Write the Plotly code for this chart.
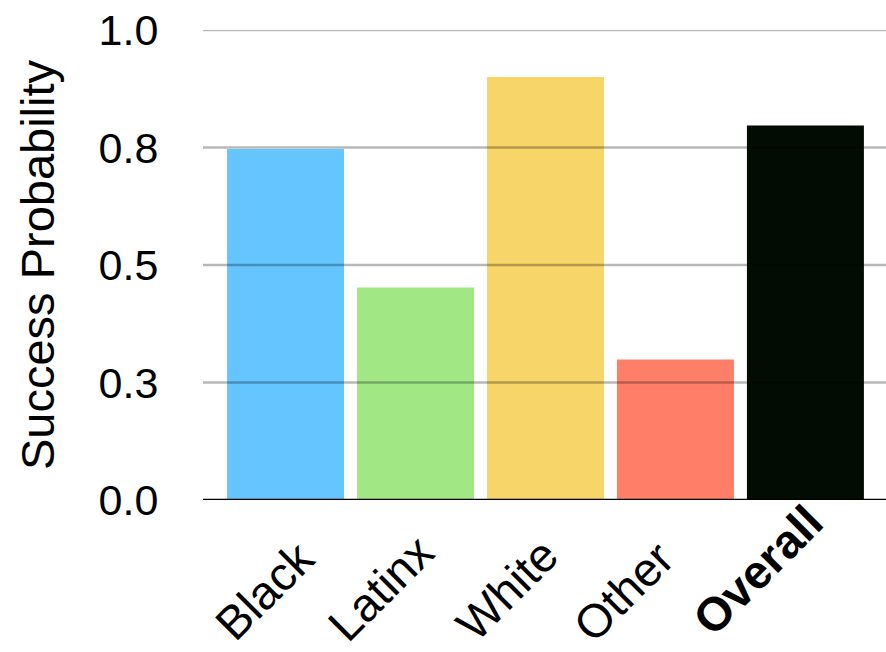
import plotly.graph_objects as go

categories = ["Black", "Latinx", "White", "Other", "Overall"]
label_text = ["Black", "Latinx", "White", "Other", "<b>Overall</b>"]
values = [0.747, 0.452, 0.900, 0.299, 0.797]
colors = ["#64C5FF", "#A1E885", "#F8D568", "#FF7E68", "#020C03"]
y_ticks = [0.0, 0.25, 0.5, 0.75, 1.0]
y_tick_text = ["0.0", "0.3", "0.5", "0.8", "1.0"]

# style: per-label pixel nudges of the rotated category labels
label_dx = [40, 29, 24, 10, 28]
label_dy = [-30, -24, -27, -30, 6]

FONT = "Liberation Sans, Arial, Helvetica, sans-serif"

fig = go.Figure()
fig.add_trace(go.Bar(
    x=list(range(len(categories))),
    y=values,
    marker=dict(color=colors, line=dict(width=0)),
    width=0.9,
    hoverinfo="skip",
))

for yv in y_ticks[1:]:
    fig.add_shape(type="line", xref="paper", yref="y", x0=0, x1=1, y0=yv, y1=yv,
                  line=dict(color="rgba(0,0,0,0.28)", width=2.5), layer="above")
fig.add_shape(type="line", xref="paper", yref="y", x0=0, x1=1, y0=0, y1=0,
              line=dict(color="black", width=2.5), layer="above")

for i, t in enumerate(label_text):
    fig.add_annotation(x=i, y=0, xref="x", yref="y", text=t, showarrow=False,
                       textangle=-45, xanchor="right", yanchor="top",
                       xshift=label_dx[i], yshift=label_dy[i], borderpad=0,
                       font=dict(size=47, family=FONT, color="black"))

fig.update_layout(
    width=886, height=652,
    margin=dict(l=203, r=0, t=30, b=152, pad=0, autoexpand=False),
    paper_bgcolor="white", plot_bgcolor="white",
    showlegend=False,
    font=dict(family=FONT, color="black"),
    xaxis=dict(
        tickmode="array",
        tickvals=list(range(len(categories))),
        showticklabels=False,
        range=[-0.635, 4.62],
        showgrid=False, zeroline=False, showline=False,
        automargin=False,
    ),
    yaxis=dict(
        range=[0, 1.0],
        tickmode="array",
        tickvals=y_ticks,
        ticktext=y_tick_text,
        tickfont=dict(size=43, family=FONT, color="black"),
        showgrid=False, zeroline=False, showline=False,
        ticks="outside", ticklen=35, tickcolor="rgba(0,0,0,0)",
        automargin=False,
        title=dict(text="Success Probability", font=dict(size=47, family=FONT, color="black"), standoff=29),
    ),
)

fig.write_html("out.html")
